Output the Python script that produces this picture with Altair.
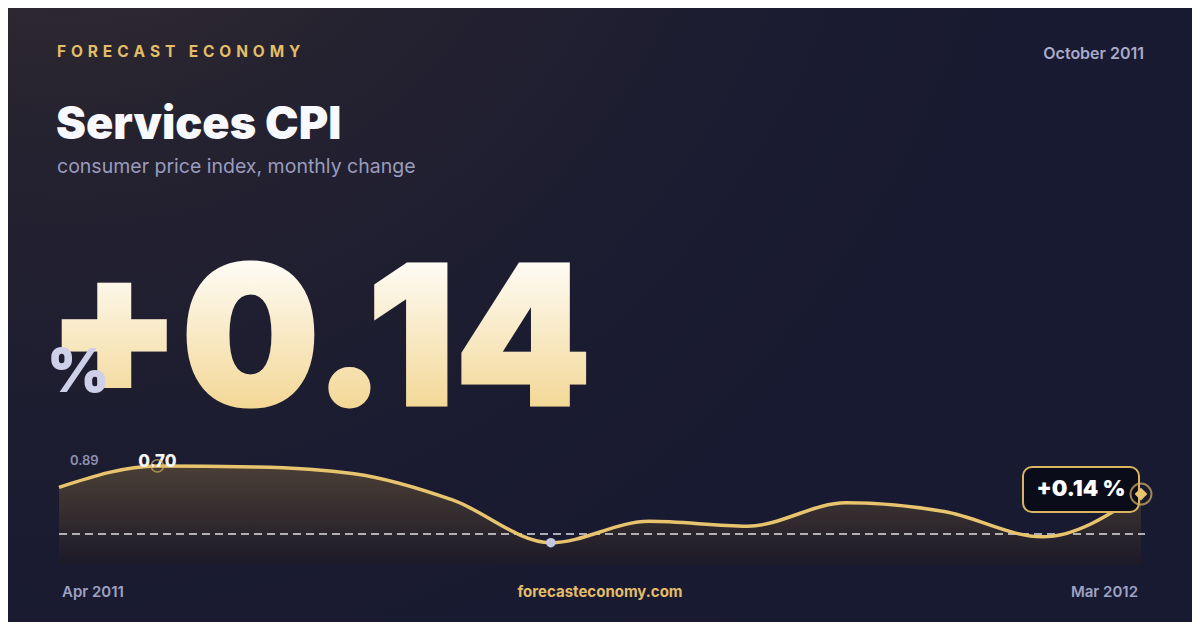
import altair as alt
import pandas as pd

W, H = 1184, 614

# ---- data ----
months = ["Apr 2011", "May 2011", "Jun 2011", "Jul 2011", "Aug 2011", "Sep 2011",
          "Oct 2011", "Nov 2011", "Dec 2011", "Jan 2012", "Feb 2012", "Mar 2012"]
values = [0.48, 0.70, 0.69, 0.62, 0.35, -0.09, 0.13, 0.08, 0.32, 0.23, -0.03, 0.41]
extent_labels = ["0.89", "-0.28"]
headline = "+0.14"
box_label = "+0.14 %"
brand = "FORECAST ECONOMY"
period = "October 2011"
title = "Services CPI"
subtitle = "consumer price index, monthly change"
site = "forecasteconomy.com"

y_lo, y_hi = -0.32, 0.89

df = pd.DataFrame({"i": list(range(len(values))), "month": months, "value": values})
imax = int(df["value"].idxmax())
imin = int(df["value"].idxmin())
peak = pd.DataFrame({"i": [imax], "value": [values[imax]], "label": [f"{values[imax]:.2f}"]})
low = pd.DataFrame({"i": [imin], "value": [values[imin]]})
last = pd.DataFrame({"i": [len(values) - 1], "value": [values[-1]], "label": [box_label]})
zero = pd.DataFrame({"v": [0.0]})
frame = pd.DataFrame({"x0": [0], "x1": [W], "y0": [0], "y1": [H]})

GOLD = "#e8c46e"
xs = alt.Scale(domain=[0, len(values) - 1], range=[51, 1133])
ys = alt.Scale(domain=[y_lo, y_hi], range=[557, 439.5])
X = alt.X("i:Q", scale=xs, axis=None)
Y = alt.Y("value:Q", scale=ys, axis=None)


def txt(text, x, y, size, color, weight=400, align="left", baseline="middle", font="Inter"):
    return alt.Chart(pd.DataFrame({"t": [text]})).mark_text(
        align=align, baseline=baseline, font=font, fontSize=size,
        fontWeight=weight, color=color
    ).encode(x=alt.value(x), y=alt.value(y), text="t:N")


bg = alt.Chart(frame).mark_rect(
    color=alt.RadialGradient(
        gradient="radial",
        stops=[alt.GradientStop(color="#3d332e", offset=0),
               alt.GradientStop(color="#252230", offset=0.35),
               alt.GradientStop(color="#1a1b31", offset=0.7),
               alt.GradientStop(color="#181a32", offset=1)],
        x1=0.05, y1=0, r1=0, x2=0.05, y2=0, r2=1)
).encode(x=alt.value(0), x2=alt.value(W), y=alt.value(0), y2=alt.value(H))

spaced_brand = "\u2009\u2009".join(brand)

texts = [
    txt(spaced_brand, 49, 44, 15.5, "#e3bd68", 700),
    txt(period, 1136, 46, 16, "#a8abc9", 600, align="right"),
    txt(title, 48, 117, 45, "#f8f9fd", 900),
    txt(subtitle, 49, 159, 19.5, "#9a9cbe", 400),
    txt(extent_labels[0], 62, 453, 13, "#8f92b2", 600),
    txt(extent_labels[1], 62, 539, 13, "#8f92b2", 600),
    txt(months[0], 54, 584, 15, "#9fa2c2", 600),
    txt(site, 592, 584, 15, "#e3bd68", 700, align="center"),
    txt(months[-1], 1130, 584, 15, "#9fa2c2", 600, align="right"),
]

big_grad = alt.LinearGradient(
    gradient="linear",
    stops=[alt.GradientStop(color="#ffffff", offset=0),
           alt.GradientStop(color="#fefbf3", offset=0.2),
           alt.GradientStop(color="#f3d898", offset=0.8),
           alt.GradientStop(color="#f0d08a", offset=1)],
    x1=0, x2=0, y1=0, y2=1)

big = alt.Chart(pd.DataFrame({"t": [headline]})).mark_text(
    align="left", baseline="alphabetic", font="Inter", fontSize=194, fontWeight=900,
    color=big_grad, stroke=big_grad, strokeWidth=3
).encode(x=alt.value(39), y=alt.value(397), text="t:N")

pct = txt("%", 39, 384, 60, "#cdd0e8", 900, baseline="alphabetic")

area = alt.Chart(df).mark_area(
    interpolate="monotone",
    color=alt.LinearGradient(
        gradient="linear",
        stops=[alt.GradientStop(color="#4b3f35", offset=0),
               alt.GradientStop(color="#1c1a29", offset=1)],
        x1=0, x2=0, y1=0, y2=1)
).encode(x=X, y=Y, y2=alt.datum(y_lo))

zero_rule = alt.Chart(zero).mark_rule(
    strokeDash=[8, 5], color="#ffffff", opacity=0.85, strokeWidth=1.5
).encode(y=alt.Y("v:Q", scale=ys, axis=None), x=alt.value(51), x2=alt.value(1137))

line = alt.Chart(df).mark_line(interpolate="monotone", color=GOLD, strokeWidth=3.5).encode(x=X, y=Y)

peak_ring = alt.Chart(peak).mark_point(
    shape="circle", size=150, filled=False, color="#d9b461", strokeWidth=1.5
).encode(x=X, y=Y)
peak_txt = alt.Chart(peak).mark_text(
    font="Inter", fontSize=17, fontWeight=800, color="#f5f5fa", dy=-4
).encode(x=X, y=Y, text="label:N")

low_dot = alt.Chart(low).mark_point(
    shape="circle", size=90, filled=True, color="#c3c7e2", opacity=1
).encode(x=X, y=Y)

box = alt.Chart(frame).mark_rect(
    fill="#0b0c19", stroke="#d9b461", strokeWidth=2, cornerRadius=9
).encode(x=alt.value(1015), x2=alt.value(1131), y=alt.value(459), y2=alt.value(504))

box_txt = alt.Chart(last).mark_text(
    font="Inter", fontSize=22, fontWeight=900, color="#ffffff", align="center",
    baseline="middle", dx=-60, dy=-5
).encode(x=X, y=Y, text="label:N")

end_ring = alt.Chart(last).mark_point(
    shape="circle", size=440, filled=False, color="#d9b461", strokeWidth=2
).encode(x=X, y=Y)
end_dot = alt.Chart(last).mark_point(
    shape="diamond", size=160, filled=True, color=GOLD, opacity=1
).encode(x=X, y=Y)

chart = alt.layer(
    bg, *texts, big, pct, area, zero_rule, line, peak_txt, peak_ring, low_dot,
    box, box_txt, end_ring, end_dot
).properties(
    width=W, height=H, padding=0, background="#181a31",
    autosize=alt.AutoSizeParams(type="none")
).configure_view(strokeWidth=0)

chart.save("out.html", embed_options={"renderer": "svg", "actions": False})
